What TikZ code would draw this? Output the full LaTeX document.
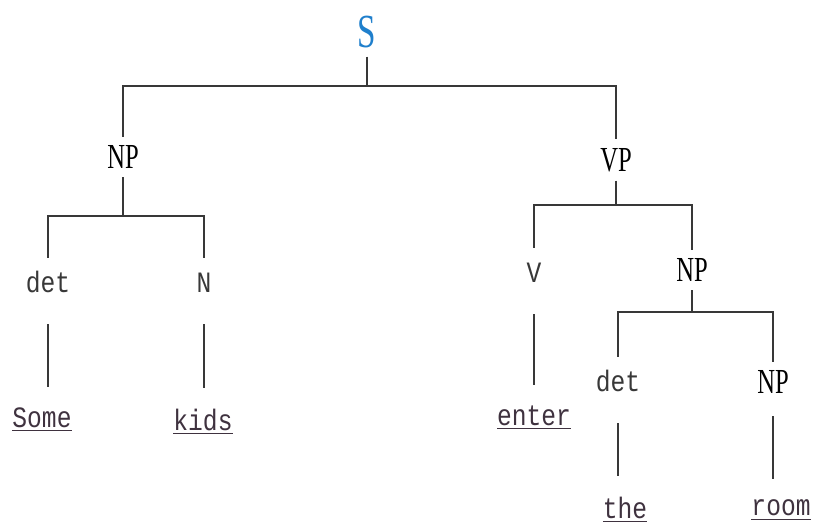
\documentclass[tikz,border=0pt]{standalone}
\usepackage{fontspec}
\setmainfont{Liberation Serif}
\setmonofont{Liberation Mono}
\definecolor{sblue}{HTML}{1F7FCC}
\definecolor{ink}{HTML}{383838}
\newcommand{\narrow}[1]{\scalebox{0.7}[1]{#1}}
\newcommand{\tall}[1]{\scalebox{1}[1.2]{#1}}
\tikzset{
  cat/.style={font=\fontsize{20}{24}\selectfont, text=black, inner sep=0pt, outer sep=5pt},
  lex/.style={font=\ttfamily\fontsize{14}{16}\selectfont, text=ink, inner sep=0pt, outer sep=10pt, text height=10pt, text depth=0pt},
  word/.style={font=\ttfamily\fontsize{14}{16}\selectfont, text=ink!90!violet, inner sep=0pt, outer sep=4pt},
  branch/.style={draw=ink, line width=0.7pt},
  leaf/.style={branch, shorten <=8pt, shorten >=8pt},
}
\begin{document}
\begin{tikzpicture}[x=0.02cm, y=-0.02cm]
\useasboundingbox (0,0) rectangle (813,525);

% categories
\node[cat, text=sblue, font=\fontsize{27}{30}\selectfont] (S) at (367,32) {\narrow{S}};
\node[cat] (np) at (123,157) {\narrow{NP}};
\node[cat] (vp) at (616,160) {\narrow{VP}};
\node[lex] (det1) at (48,284) {\tall{det}};
\node[lex] (n1) at (204,284) {\tall{N}};
\node[lex] (v1) at (534,274) {\tall{V}};
\node[cat] (np2) at (692,270) {\narrow{NP}};
\node[lex] (det2) at (618,383) {\tall{det}};
\node[cat] (np3) at (773,382) {\narrow{NP}};

% words
\node[word] (some) at (42,420) {\tall{\underline{Some}}};
\node[word] (kids) at (203,422) {\tall{\underline{kids}}};
\node[word] (enter) at (534,418) {\tall{\underline{enter}}};
\node[word] (the) at (625,510) {\tall{\underline{the}}};
\node[word] (room) at (781,510) {\tall{\underline{room}}};

% junctions
\coordinate (jS) at (367,86);
\coordinate (jNP) at (125,216);
\coordinate (jVP) at (618,205);
\coordinate (jNP2) at (692,312);

\draw[branch] (S) -- (jS);
\draw[branch] (np) |- (jS) -| (vp);
\draw[branch] (np) -- (np |- jNP);
\draw[branch] (det1) |- (jNP) -| (n1);
\draw[branch] (vp) -- (vp |- jVP);
\draw[branch] (v1) |- (jVP) -| (np2);
\draw[branch] (np2) -- (jNP2);
\draw[branch] (det2) |- (jNP2) -| (np3);

\draw[leaf] (det1) -- (some.north -| det1);
\draw[leaf] (n1) -- (kids.north -| n1);
\draw[leaf] (v1) -- (enter.north -| v1);
\draw[leaf] (det2) -- (the.north -| det2);
\draw[leaf] (np3) -- (room.north -| np3);
\end{tikzpicture}
\end{document}
